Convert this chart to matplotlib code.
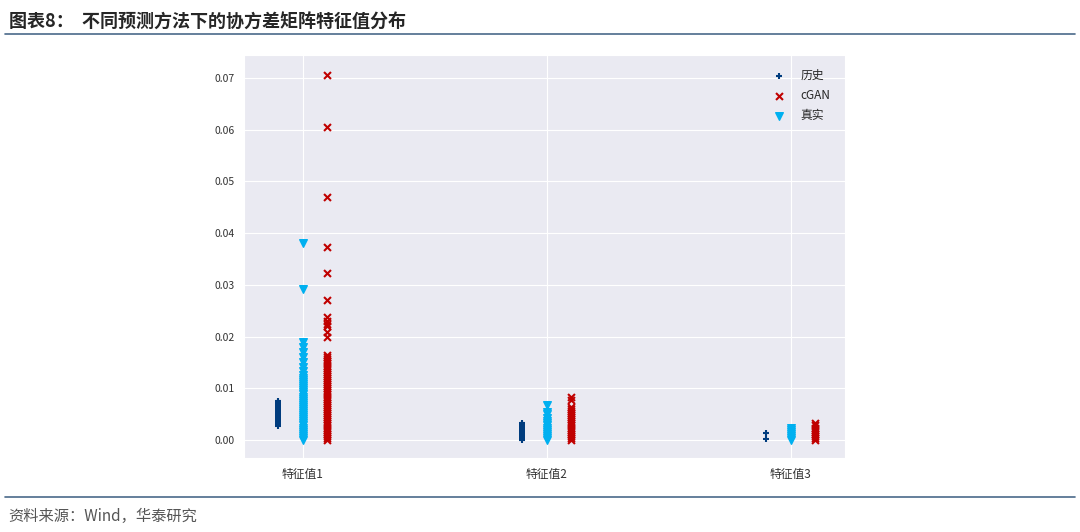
import matplotlib
matplotlib.use('Agg')
import matplotlib.pyplot as plt
import seaborn as sns

sns.set_style('darkgrid')
plt.rcParams['font.family'] = ['Noto Sans CJK SC', 'DejaVu Sans']

categories = ['特征值1', '特征值2', '特征值3']

# 历史
hist = [
    [0.0027, 0.0030, 0.0033, 0.0036, 0.0040, 0.0043, 0.0046, 0.0050, 0.0053,
     0.0056, 0.0060, 0.0063, 0.0066, 0.0070, 0.0073, 0.0076],
    [0.0000, 0.0003, 0.0006, 0.0009, 0.0012, 0.0015, 0.0018, 0.0021, 0.0024,
     0.0027, 0.0030, 0.0033],
    [0.0002, 0.0014],
]
# cGAN
cgan = [
    [0.0000, 0.0004, 0.0008, 0.0012, 0.0016, 0.0020, 0.0024, 0.0028, 0.0032,
     0.0036, 0.0040, 0.0044, 0.0048, 0.0052, 0.0056, 0.0060, 0.0064, 0.0068,
     0.0072, 0.0076, 0.0080, 0.0084, 0.0088, 0.0092, 0.0096, 0.0100, 0.0104,
     0.0108, 0.0112, 0.0116, 0.0120, 0.0124, 0.0128, 0.0132, 0.0136, 0.0140,
     0.0144, 0.0148, 0.0152, 0.0156, 0.0160, 0.0164,
     0.0200, 0.0208, 0.0220, 0.0225, 0.0230, 0.0238, 0.0270, 0.0323, 0.0373,
     0.0470, 0.0605, 0.0705],
    [0.0000, 0.0004, 0.0008, 0.0012, 0.0016, 0.0020, 0.0024, 0.0028, 0.0032,
     0.0036, 0.0040, 0.0044, 0.0048, 0.0052, 0.0056, 0.0060, 0.0064, 0.0078,
     0.0083],
    [0.0000, 0.0004, 0.0008, 0.0012, 0.0016, 0.0020, 0.0024, 0.0028, 0.0032],
]
# 真实
real = [
    [0.0000, 0.0004, 0.0008, 0.0012, 0.0016, 0.0020, 0.0024, 0.0028, 0.0032,
     0.0036, 0.0040, 0.0044, 0.0048, 0.0052, 0.0056, 0.0060, 0.0064, 0.0068,
     0.0072, 0.0076, 0.0080, 0.0084, 0.0088, 0.0092, 0.0096, 0.0100, 0.0104,
     0.0108, 0.0112, 0.0116, 0.0120, 0.0125, 0.0133, 0.0142, 0.0150, 0.0160,
     0.0170, 0.0180, 0.0190, 0.0292, 0.0380],
    [0.0000, 0.0004, 0.0008, 0.0012, 0.0016, 0.0020, 0.0024, 0.0028, 0.0032,
     0.0036, 0.0042, 0.0050, 0.0055, 0.0067],
    [0.0000, 0.0004, 0.0008, 0.0012, 0.0016, 0.0020, 0.0023],
]

fig = plt.figure(figsize=(10.8, 5.32), dpi=100)
ax = fig.add_axes([0.226, 0.139, 0.556, 0.758])

for i in range(3):
    ax.scatter([i - 0.1] * len(hist[i]), hist[i], marker='+', color='#003C7E', s=25,
               linewidths=1.5, label='历史' if i == 0 else None, zorder=3)
    ax.scatter([i + 0.1] * len(cgan[i]), cgan[i], marker='x', color='#C00000', s=25,
               linewidths=1.5, label='cGAN' if i == 0 else None, zorder=3)
    ax.scatter([i] * len(real[i]), real[i], marker='v', color='#00B0F0', s=30,
               label='真实' if i == 0 else None, zorder=3)

ax.set_xlim(-0.24, 2.22)
ax.set_ylim(-0.0035, 0.0745)
ax.set_xticks([0, 1, 2])
ax.set_xticklabels(categories, fontsize=8.5)
ax.set_yticks([0, 0.01, 0.02, 0.03, 0.04, 0.05, 0.06, 0.07])
ax.set_yticklabels(['0.00', '0.01', '0.02', '0.03', '0.04', '0.05', '0.06', '0.07'], fontsize=7.5)
ax.tick_params(colors='#333333')
ax.legend(loc='upper right', fontsize=8.5, frameon=False, labelspacing=0.6,
          borderaxespad=0.8)

fig.text(0.008, 0.958, '图表8：  不同预测方法下的协方差矩阵特征值分布', fontsize=13,
         fontweight='bold', va='center')
fig.add_artist(plt.Line2D([0.005, 0.995], [0.937, 0.937], color='#4A6A8A', lw=1.2))
fig.add_artist(plt.Line2D([0.005, 0.995], [0.065, 0.065], color='#4A6A8A', lw=1.2))
fig.text(0.008, 0.03, '资料来源：Wind，华泰研究', fontsize=11, color='#555555', va='center')

fig.savefig('out.png', dpi=100)
